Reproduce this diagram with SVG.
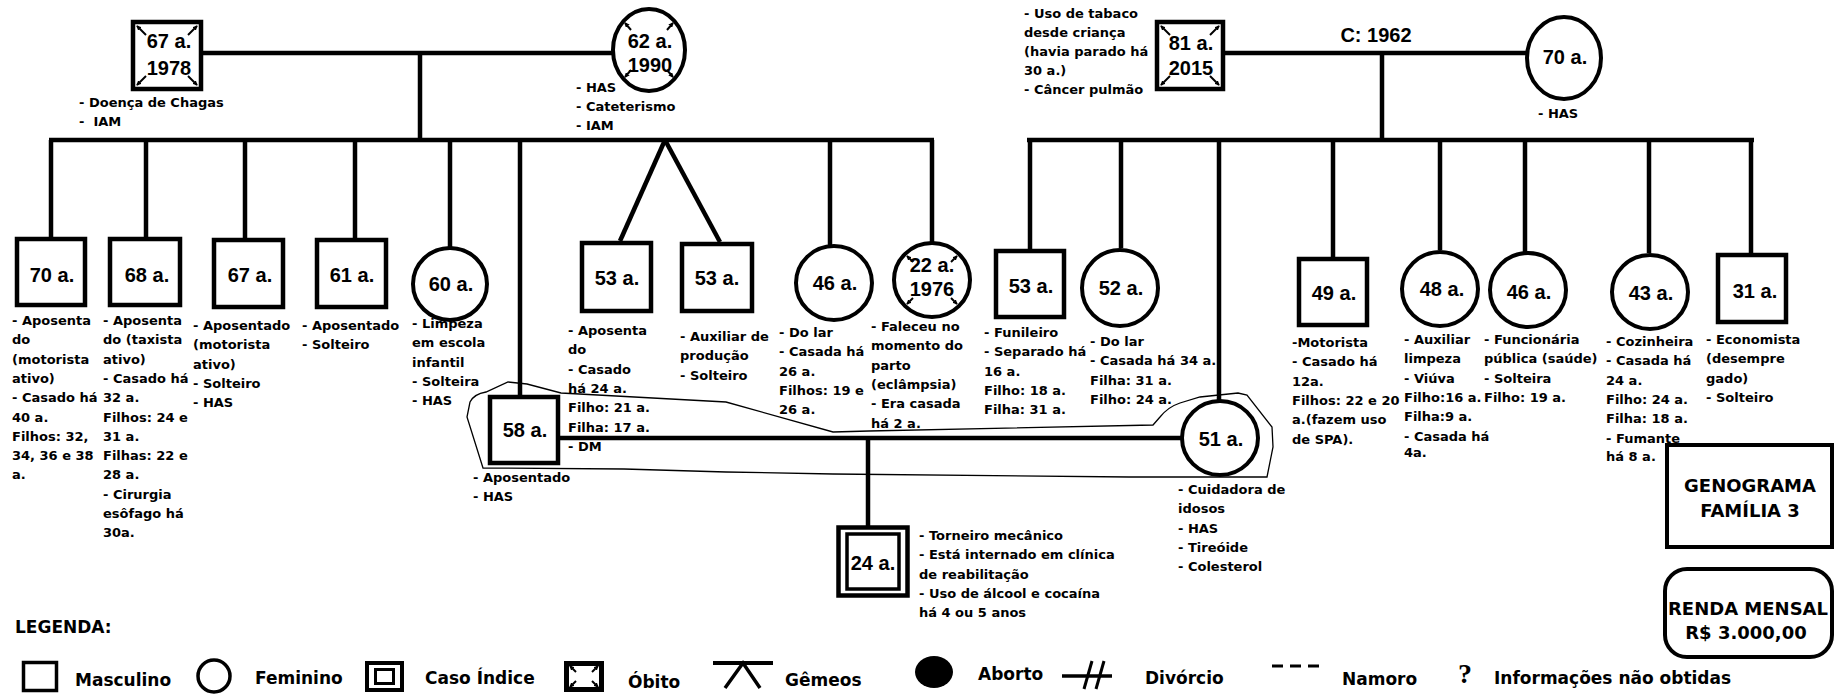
<svg xmlns="http://www.w3.org/2000/svg" width="1835" height="694" viewBox="0 0 1835 694">
<defs>
<style>
.ln{stroke:#000;stroke-width:4.5;fill:none}
.sq{fill:#fff;stroke:#000;stroke-width:4.5}
.ci{fill:#fff;stroke:#000;stroke-width:4}
.mk{stroke:#000;stroke-width:2;fill:none;marker-end:url(#ah)}
.enc{fill:none;stroke:#000;stroke-width:1.3}
.t{font-family:"DejaVu Sans",Verdana,sans-serif;font-weight:bold;font-size:13px;fill:#000}
.age{font-family:"Liberation Sans",Arial,sans-serif;font-weight:bold;font-size:20px;fill:#000;text-anchor:middle}
.lg{font-family:"DejaVu Sans",Verdana,sans-serif;font-weight:bold;font-size:17px;fill:#000}
.ttl{font-family:"DejaVu Sans",Verdana,sans-serif;font-weight:bold;font-size:18px;fill:#000;text-anchor:middle}
</style>
<marker id="ah" viewBox="0 0 6 6" refX="5" refY="3" markerWidth="5" markerHeight="5" orient="auto" markerUnits="userSpaceOnUse"><path d="M0,0L6,3L0,6z" fill="#000"/></marker>
</defs>
<rect width="1835" height="694" fill="#fff"/>

<g id="connectors">
<line class="ln" x1="203" y1="53" x2="612" y2="53"/>
<line class="ln" x1="420" y1="53" x2="420" y2="140"/>
<line class="ln" x1="49" y1="140" x2="934" y2="140"/>
<line class="ln" x1="51" y1="140" x2="51" y2="237"/>
<line class="ln" x1="146" y1="140" x2="146" y2="237"/>
<line class="ln" x1="245" y1="140" x2="245" y2="238"/>
<line class="ln" x1="355" y1="140" x2="355" y2="238"/>
<line class="ln" x1="450" y1="140" x2="450" y2="248"/>
<line class="ln" x1="520" y1="140" x2="520" y2="395"/>
<line class="ln" x1="665" y1="140" x2="620" y2="241"/>
<line class="ln" x1="665" y1="140" x2="720" y2="242"/>
<line class="ln" x1="830" y1="140" x2="830" y2="246"/>
<line class="ln" x1="932" y1="140" x2="932" y2="243"/>
<line class="ln" x1="1225" y1="53" x2="1527" y2="53"/>
<line class="ln" x1="1382" y1="53" x2="1382" y2="140"/>
<line class="ln" x1="1027" y1="140" x2="1754" y2="140"/>
<line class="ln" x1="1030" y1="140" x2="1030" y2="249"/>
<line class="ln" x1="1121" y1="140" x2="1121" y2="248"/>
<line class="ln" x1="1219" y1="140" x2="1219" y2="400"/>
<line class="ln" x1="1333" y1="140" x2="1333" y2="257"/>
<line class="ln" x1="1440" y1="140" x2="1440" y2="250"/>
<line class="ln" x1="1525" y1="140" x2="1525" y2="252"/>
<line class="ln" x1="1649" y1="140" x2="1649" y2="253"/>
<line class="ln" x1="1751" y1="140" x2="1751" y2="253"/>
<line class="ln" x1="560" y1="438" x2="1181" y2="438"/>
<line class="ln" x1="868" y1="438" x2="868" y2="526"/>
<path class="enc" d="M483,468 L467,417 L470,402 Q474,394 486,392 L508,382 L527,384 L561,393 L726,402 L833,432 L869,431 L1153,425 L1160,417 Q1168,407 1180,403 L1200,397 L1238,393 L1247,395 L1272,427 L1273,447 L1267,477 L1129,477 L833,474 L726,472 L624,469 Z"/>
</g>

<g id="gf-paterno">
<rect class="sq" x="133" y="22" width="68" height="67"/>
<path class="mk" d="M146,35L137,26"/><path class="mk" d="M188,35L197,26"/><path class="mk" d="M146,76L137,85"/><path class="mk" d="M188,76L197,85"/>
<text class="age" x="169" y="48">67 a.</text>
<text class="age" x="169" y="75">1978</text>
<text class="t" x="79" y="107" xml:space="preserve"><tspan x="79">- Doença de Chagas</tspan><tspan x="79" dy="19">-  IAM</tspan></text>
</g>

<g id="gm-paterna">
<ellipse class="ci" cx="649" cy="50" rx="36" ry="41"/>
<path class="mk" d="M631,30L625,23"/><path class="mk" d="M667,30L673,23"/><path class="mk" d="M631,70L625,77"/><path class="mk" d="M667,70L673,77"/>
<text class="age" x="650" y="48">62 a.</text>
<text class="age" x="650" y="72">1990</text>
<text class="t" x="576" y="92"><tspan x="576">- HAS</tspan><tspan x="576" dy="19">- Cateterismo</tspan><tspan x="576" dy="19">- IAM</tspan></text>
</g>

<g id="gf-materno">
<rect class="sq" x="1157" y="22" width="66" height="67"/>
<path class="mk" d="M1170,35L1161,26"/><path class="mk" d="M1210,35L1219,26"/><path class="mk" d="M1170,76L1161,85"/><path class="mk" d="M1210,76L1219,85"/>
<text class="age" x="1191" y="50">81 a.</text>
<text class="age" x="1191" y="75">2015</text>
<text class="t" x="1024" y="18"><tspan x="1024">- Uso de tabaco</tspan><tspan x="1024" dy="19">desde criança</tspan><tspan x="1024" dy="19">(havia parado há</tspan><tspan x="1024" dy="19">30 a.)</tspan><tspan x="1024" dy="19">- Câncer pulmão</tspan></text>
<text class="age" x="1376" y="42">C: 1962</text>
</g>

<g id="gm-materna">
<ellipse class="ci" cx="1564" cy="58" rx="37" ry="41"/>
<text class="age" x="1565" y="64">70 a.</text>
<text class="t" x="1538" y="118">- HAS</text>
</g>

<g id="p-70">
<rect class="sq" x="17" y="239" width="68" height="66"/>
<text class="age" x="52" y="282">70 a.</text>
<text class="t" x="12" y="325"><tspan x="12">- Aposenta</tspan><tspan x="12" dy="19.3">do</tspan><tspan x="12" dy="19.3">(motorista</tspan><tspan x="12" dy="19.3">ativo)</tspan><tspan x="12" dy="19.3">- Casado há</tspan><tspan x="12" dy="19.3">40 a.</tspan><tspan x="12" dy="19.3">Filhos: 32,</tspan><tspan x="12" dy="19.3">34, 36 e 38</tspan><tspan x="12" dy="19.3">a.</tspan></text>
</g>

<g id="p-68">
<rect class="sq" x="110" y="239" width="70" height="66"/>
<text class="age" x="147" y="282">68 a.</text>
<text class="t" x="103" y="325"><tspan x="103">- Aposenta</tspan><tspan x="103" dy="19.3">do (taxista</tspan><tspan x="103" dy="19.3">ativo)</tspan><tspan x="103" dy="19.3">- Casado há</tspan><tspan x="103" dy="19.3">32 a.</tspan><tspan x="103" dy="19.3">Filhos: 24 e</tspan><tspan x="103" dy="19.3">31 a.</tspan><tspan x="103" dy="19.3">Filhas: 22 e</tspan><tspan x="103" dy="19.3">28 a.</tspan><tspan x="103" dy="19.3">- Cirurgia</tspan><tspan x="103" dy="19.3">esôfago há</tspan><tspan x="103" dy="19.3">30a.</tspan></text>
</g>

<g id="p-67">
<rect class="sq" x="214" y="240" width="69" height="67"/>
<text class="age" x="250" y="282">67 a.</text>
<text class="t" x="193" y="330"><tspan x="193">- Aposentado</tspan><tspan x="193" dy="19.3">(motorista</tspan><tspan x="193" dy="19.3">ativo)</tspan><tspan x="193" dy="19.3">- Solteiro</tspan><tspan x="193" dy="19.3">- HAS</tspan></text>
</g>

<g id="p-61">
<rect class="sq" x="317" y="240" width="69" height="67"/>
<text class="age" x="352" y="282">61 a.</text>
<text class="t" x="302" y="330"><tspan x="302">- Aposentado</tspan><tspan x="302" dy="19.3">- Solteiro</tspan></text>
</g>

<g id="p-60">
<ellipse class="ci" cx="450" cy="284" rx="37" ry="36"/>
<text class="age" x="451" y="291">60 a.</text>
<text class="t" x="412" y="328"><tspan x="412">- Limpeza</tspan><tspan x="412" dy="19.3">em escola</tspan><tspan x="412" dy="19.3">infantil</tspan><tspan x="412" dy="19.3">- Solteira</tspan><tspan x="412" dy="19.3">- HAS</tspan></text>
</g>

<g id="p-58">
<rect class="sq" x="490" y="397" width="68" height="66"/>
<text class="age" x="525" y="437">58 a.</text>
<text class="t" x="473" y="482"><tspan x="473">- Aposentado</tspan><tspan x="473" dy="19.3">- HAS</tspan></text>
</g>

<g id="p-53-gemeo1">
<rect class="sq" x="582" y="243" width="69" height="68"/>
<text class="age" x="617" y="285">53 a.</text>
<text class="t" x="568" y="335"><tspan x="568">- Aposenta</tspan><tspan x="568" dy="19.3">do</tspan><tspan x="568" dy="19.3">- Casado</tspan><tspan x="568" dy="19.3">há 24 a.</tspan><tspan x="568" dy="19.3">Filho: 21 a.</tspan><tspan x="568" dy="19.3">Filha: 17 a.</tspan><tspan x="568" dy="19.3">- DM</tspan></text>
</g>

<g id="p-53-gemeo2">
<rect class="sq" x="682" y="244" width="70" height="67"/>
<text class="age" x="717" y="285">53 a.</text>
<text class="t" x="680" y="341"><tspan x="680">- Auxiliar de</tspan><tspan x="680" dy="19.3">produção</tspan><tspan x="680" dy="19.3">- Solteiro</tspan></text>
</g>

<g id="p-46-pat">
<ellipse class="ci" cx="834" cy="283" rx="38" ry="37"/>
<text class="age" x="835" y="290">46 a.</text>
<text class="t" x="779" y="337"><tspan x="779">- Do lar</tspan><tspan x="779" dy="19.3">- Casada há</tspan><tspan x="779" dy="19.3">26 a.</tspan><tspan x="779" dy="19.3">Filhos: 19 e</tspan><tspan x="779" dy="19.3">26 a.</tspan></text>
</g>

<g id="p-22">
<ellipse class="ci" cx="932" cy="280" rx="38" ry="37"/>
<path class="mk" d="M913,262L907,256"/><path class="mk" d="M951,262L957,256"/><path class="mk" d="M913,298L907,304"/><path class="mk" d="M951,298L957,304"/>
<text class="age" x="932" y="272">22 a.</text>
<text class="age" x="932" y="296">1976</text>
<text class="t" x="871" y="331"><tspan x="871">- Faleceu no</tspan><tspan x="871" dy="19.3">momento do</tspan><tspan x="871" dy="19.3">parto</tspan><tspan x="871" dy="19.3">(eclâmpsia)</tspan><tspan x="871" dy="19.3">- Era casada</tspan><tspan x="871" dy="19.3">há 2 a.</tspan></text>
</g>

<g id="p-53-mat">
<rect class="sq" x="996" y="251" width="68" height="66"/>
<text class="age" x="1031" y="293">53 a.</text>
<text class="t" x="984" y="337"><tspan x="984">- Funileiro</tspan><tspan x="984" dy="19.3">- Separado há</tspan><tspan x="984" dy="19.3">16 a.</tspan><tspan x="984" dy="19.3">Filho: 18 a.</tspan><tspan x="984" dy="19.3">Filha: 31 a.</tspan></text>
</g>

<g id="p-52">
<ellipse class="ci" cx="1120" cy="288" rx="38" ry="38"/>
<text class="age" x="1121" y="295">52 a.</text>
<text class="t" x="1090" y="346"><tspan x="1090">- Do lar</tspan><tspan x="1090" dy="19.3">- Casada há 34 a.</tspan><tspan x="1090" dy="19.3">Filha: 31 a.</tspan><tspan x="1090" dy="19.3">Filho: 24 a.</tspan></text>
</g>

<g id="p-51">
<ellipse class="ci" cx="1220" cy="438" rx="38" ry="37"/>
<text class="age" x="1221" y="446">51 a.</text>
<text class="t" x="1178" y="494"><tspan x="1178">- Cuidadora de</tspan><tspan x="1178" dy="19.3">idosos</tspan><tspan x="1178" dy="19.3">- HAS</tspan><tspan x="1178" dy="19.3">- Tireóide</tspan><tspan x="1178" dy="19.3">- Colesterol</tspan></text>
</g>

<g id="p-24-indice">
<rect class="sq" x="838.5" y="527.5" width="69" height="68" stroke-width="5"/>
<rect x="847" y="534" width="52" height="55" fill="#fff" stroke="#000" stroke-width="3.5"/>
<text class="age" x="873" y="570">24 a.</text>
<text class="t" x="919" y="540"><tspan x="919">- Torneiro mecânico</tspan><tspan x="919" dy="19.3">- Está internado em clínica</tspan><tspan x="919" dy="19.3">de reabilitação</tspan><tspan x="919" dy="19.3">- Uso de álcool e cocaína</tspan><tspan x="919" dy="19.3">há 4 ou 5 anos</tspan></text>
</g>

<g id="p-49">
<rect class="sq" x="1299" y="259" width="68" height="66"/>
<text class="age" x="1334" y="300">49 a.</text>
<text class="t" x="1292" y="347"><tspan x="1292">-Motorista</tspan><tspan x="1292" dy="19.3">- Casado há</tspan><tspan x="1292" dy="19.3">12a.</tspan><tspan x="1292" dy="19.3">Filhos: 22 e 20</tspan><tspan x="1292" dy="19.3">a.(fazem uso</tspan><tspan x="1292" dy="19.3">de SPA).</tspan></text>
</g>

<g id="p-48">
<ellipse class="ci" cx="1440" cy="289" rx="38" ry="37"/>
<text class="age" x="1442" y="296">48 a.</text>
<text class="t" x="1404" y="344"><tspan x="1404">- Auxiliar</tspan><tspan x="1404" dy="19.3">limpeza</tspan><tspan x="1404" dy="19.3">- Viúva</tspan><tspan x="1404" dy="19.3">Filho:16 a.</tspan><tspan x="1404" dy="19.3">Filha:9 a.</tspan><tspan x="1404" dy="19.3">- Casada há</tspan><tspan x="1404" dy="16">4a.</tspan></text>
</g>

<g id="p-46-mat">
<ellipse class="ci" cx="1528" cy="290" rx="38" ry="37"/>
<text class="age" x="1529" y="299">46 a.</text>
<text class="t" x="1484" y="344"><tspan x="1484">- Funcionária</tspan><tspan x="1484" dy="19.3">pública (saúde)</tspan><tspan x="1484" dy="19.3">- Solteira</tspan><tspan x="1484" dy="19.3">Filho: 19 a.</tspan></text>
</g>

<g id="p-43">
<ellipse class="ci" cx="1650" cy="292" rx="38" ry="37"/>
<text class="age" x="1651" y="300">43 a.</text>
<text class="t" x="1606" y="346"><tspan x="1606">- Cozinheira</tspan><tspan x="1606" dy="19.3">- Casada há</tspan><tspan x="1606" dy="19.3">24 a.</tspan><tspan x="1606" dy="19.3">Filho: 24 a.</tspan><tspan x="1606" dy="19.3">Filha: 18 a.</tspan><tspan x="1606" dy="19.3">- Fumante</tspan><tspan x="1606" dy="18">há 8 a.</tspan></text>
</g>

<g id="p-31">
<rect class="sq" x="1718" y="255" width="68" height="67"/>
<text class="age" x="1755" y="298">31 a.</text>
<text class="t" x="1706" y="344"><tspan x="1706">- Economista</tspan><tspan x="1706" dy="19.3">(desempre</tspan><tspan x="1706" dy="19.3">gado)</tspan><tspan x="1706" dy="19.3">- Solteiro</tspan></text>
</g>

<g id="titulo">
<rect x="1667" y="445" width="165" height="102" fill="#fff" stroke="#000" stroke-width="4"/>
<text class="ttl" x="1750" y="492">GENOGRAMA</text>
<text class="ttl" x="1750" y="517">FAMÍLIA 3</text>
</g>

<g id="renda">
<rect x="1665" y="569" width="167" height="88" rx="22" fill="#fff" stroke="#000" stroke-width="4"/>
<text class="ttl" x="1748" y="615" font-size="17.5">RENDA MENSAL</text>
<text class="ttl" x="1746" y="639" font-size="17.5">R$ 3.000,00</text>
</g>

<g id="legenda">
<text class="lg" x="15" y="633" font-size="18">LEGENDA:</text>
<rect x="23.5" y="662.5" width="33" height="28" fill="#fff" stroke="#000" stroke-width="3.5"/>
<text class="lg" x="75" y="686">Masculino</text>
<ellipse cx="214" cy="676" rx="16" ry="16" fill="#fff" stroke="#000" stroke-width="3.5"/>
<text class="lg" x="255" y="684">Feminino</text>
<rect x="367" y="663" width="35" height="27" fill="#fff" stroke="#000" stroke-width="4"/>
<rect x="375.5" y="669.5" width="18" height="14" fill="#fff" stroke="#000" stroke-width="3"/>
<text class="lg" x="425" y="684">Caso Índice</text>
<rect x="566.5" y="663.5" width="35" height="26" fill="#fff" stroke="#000" stroke-width="5"/>
<path class="mk" d="M576,672L570,666"/><path class="mk" d="M592,672L598,666"/><path class="mk" d="M576,681L570,687"/><path class="mk" d="M592,681L598,687"/>
<text class="lg" x="628" y="688">Óbito</text>
<line x1="713" y1="663" x2="773" y2="663" stroke="#000" stroke-width="4"/>
<path d="M725,688L743,663L760,688" fill="none" stroke="#000" stroke-width="3.5"/>
<text class="lg" x="785" y="686">Gêmeos</text>
<ellipse cx="934" cy="672" rx="19" ry="16" fill="#000"/>
<text class="lg" x="978" y="680">Aborto</text>
<line x1="1062" y1="676" x2="1112" y2="676" stroke="#000" stroke-width="3.5"/>
<line x1="1084" y1="689" x2="1092" y2="661" stroke="#000" stroke-width="3"/>
<line x1="1096" y1="689" x2="1104" y2="661" stroke="#000" stroke-width="3"/>
<text class="lg" x="1145" y="684">Divórcio</text>
<path d="M1272,666h11M1290,666h11M1308,666h11" stroke="#000" stroke-width="3"/>
<text class="lg" x="1342" y="685">Namoro</text>
<text x="1458" y="683" font-family="'Liberation Serif','Times New Roman',serif" font-weight="bold" font-size="28">?</text>
<text class="lg" x="1494" y="684">Informações não obtidas</text>
</g>
</svg>
